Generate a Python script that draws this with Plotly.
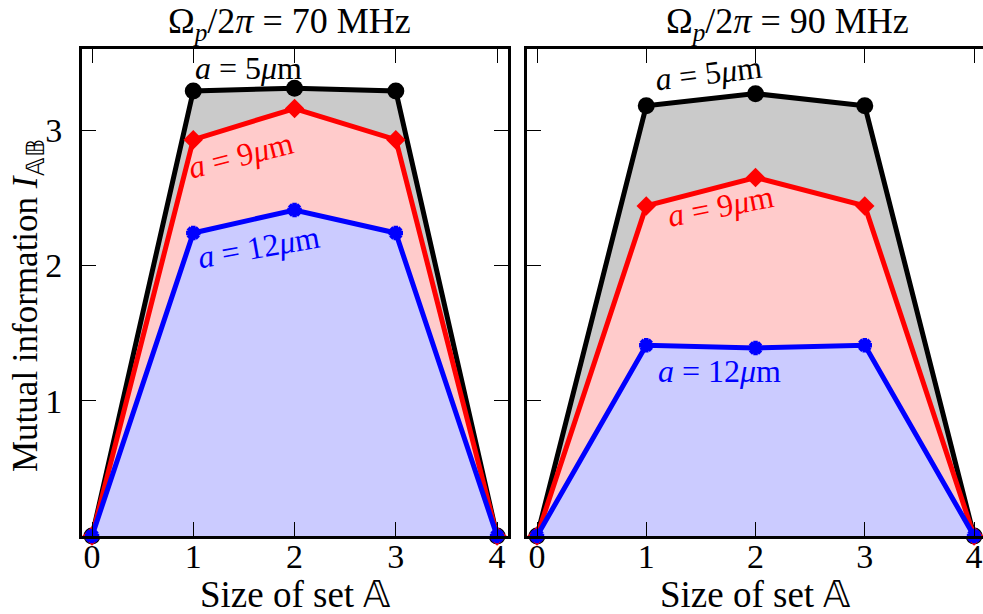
import plotly.graph_objects as go

# ---------------- data ----------------
sizes = [0, 1, 2, 3, 4]
x_tick_labels = ["0", "1", "2", "3", "4"]
y_ticks = [1, 2, 3]
y_tick_labels = ["1", "2", "3"]

# Omega_p / 2pi = 70 MHz
i70_a5 = [0, 3.29, 3.31, 3.29, 0]
i70_a9 = [0, 2.93, 3.16, 2.93, 0]
i70_a12 = [0, 2.24, 2.41, 2.24, 0]
# Omega_p / 2pi = 90 MHz
i90_a5 = [0, 3.18, 3.27, 3.18, 0]
i90_a9 = [0, 2.44, 2.65, 2.44, 0]
i90_a12 = [0, 1.41, 1.39, 1.41, 0]

panel_titles = ["Ω<sub><i>p</i></sub>/2<i>π</i> = 70 MHz", "Ω<sub><i>p</i></sub>/2<i>π</i> = 90 MHz"]
series_labels = ["<i>a</i> = 5<i>μ</i>m", "<i>a</i> = 9<i>μ</i>m", "<i>a</i> = 12<i>μ</i>m"]

FONT = "Liberation Serif"
styles = [
    dict(color="#000000", fill="#cacaca", symbol="circle", size=17, mlw=0),
    dict(color="#ff0000", fill="#ffcbcb", symbol="diamond", size=15, mlw=0),
    dict(color="#0000ff", fill="#cbcbff", symbol="asterisk-open", size=12, mlw=4.5),
]

fig = go.Figure()

panels = [("x", "y", [i70_a5, i70_a9, i70_a12]), ("x2", "y2", [i90_a5, i90_a9, i90_a12])]
for xa, ya, series in panels:
    for vals, st in zip(series, styles):
        fig.add_trace(go.Scatter(
            x=sizes, y=vals, xaxis=xa, yaxis=ya, mode="lines+markers",
            line=dict(color=st["color"], width=5),
            fill="tozeroy", fillcolor=st["fill"],
            marker=dict(symbol=st["symbol"], size=st["size"], color=st["color"],
                        line=dict(color=st["color"], width=st["mlw"])),
            cliponaxis=False, showlegend=False, hoverinfo="skip",
        ))

axis_common = dict(
    showline=True, linecolor="black", linewidth=3, ticks="inside", ticklen=14,
    tickwidth=1.2, tickcolor="black", showgrid=False, zeroline=False,
    tickfont=dict(family=FONT, size=34, color="black"), automargin=False,
)

fig.update_layout(
    width=983, height=614, margin=dict(l=0, r=0, t=0, b=0),
    plot_bgcolor="white", paper_bgcolor="white",
    xaxis=dict(domain=[82 / 983, 508 / 983], range=[-0.099, 4.108], anchor="y",
               tickvals=sizes, ticktext=x_tick_labels, mirror="ticks",
               ticklabelstandoff=-12, **axis_common),
    yaxis=dict(domain=[78 / 614, 565 / 614], range=[0, 3.6], anchor="x",
               tickvals=y_ticks, ticktext=y_tick_labels, mirror="ticks",
               ticklabelstandoff=10, **axis_common),
    xaxis2=dict(domain=[527 / 983, 1.0], range=[-0.0915, 4.082], anchor="y2",
                tickvals=sizes, ticktext=x_tick_labels, mirror="ticks",
                ticklabelstandoff=-12, **axis_common),
    yaxis2=dict(domain=[78 / 614, 565 / 614], range=[0, 3.6], anchor="x2",
                tickvals=y_ticks, ticktext=y_tick_labels, showticklabels=False,
                **axis_common),
    yaxis3=dict(overlaying="y2", side="right", anchor="x2", range=[0, 3.6],
                tickvals=y_ticks, showticklabels=False, showline=False,
                ticks="inside", ticklen=12, tickwidth=1.2, tickcolor="black",
                showgrid=False, zeroline=False, automargin=False),
)

ann = []
# panel titles
ann.append(dict(text=panel_titles[0], x=289 / 983, y=(614 - 23) / 614))
ann.append(dict(text=panel_titles[1], x=787 / 983, y=(614 - 23) / 614))
for a in ann:
    a.update(xref="paper", yref="paper", showarrow=False, xanchor="center", yanchor="middle",
             font=dict(family=FONT, size=36, color="black"))
# axis titles
axis_titles = [
    dict(text="Size of set 𝔸", x=295 / 983, y=(614 - 594) / 614, size=37),
    dict(text="Size of set 𝔸", x=755 / 983, y=(614 - 594) / 614, size=37),
    dict(text="Mutual information <i>I</i><sub>𝔸𝔹</sub>", x=27 / 983, y=(614 - 306) / 614,
         textangle=-90, size=35),
]
for a in axis_titles:
    fs = a.pop("size")
    a.update(xref="paper", yref="paper", showarrow=False, xanchor="center", yanchor="middle",
             font=dict(family=FONT, size=fs, color="black"))
    ann.append(a)

# series labels inside panels
label_specs = [
    ("x", "y", 1.55, 3.46, 0, 0, "#000000"),
    ("x", "y", 1.47, 2.82, 1, -14, "#ff0000"),
    ("x", "y", 1.64, 2.14, 2, -10, "#0000ff"),
    ("x2", "y2", 1.57, 3.42, 0, -7, "#000000"),
    ("x2", "y2", 1.68, 2.44, 1, -11, "#ff0000"),
    ("x2", "y2", 1.67, 1.22, 2, 0, "#0000ff"),
]
for xr, yr, xv, yv, k, ang, col in label_specs:
    ann.append(dict(text=series_labels[k], x=xv, y=yv, xref=xr, yref=yr, showarrow=False,
                    textangle=ang, xanchor="center", yanchor="middle",
                    font=dict(family=FONT, size=32, color=col)))

fig.update_layout(annotations=ann)
fig.write_html("out.html")
